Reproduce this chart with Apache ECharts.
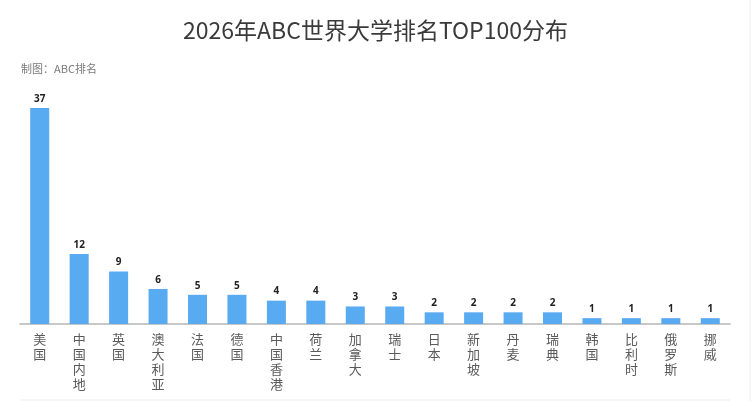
<!DOCTYPE html>
<html><head><meta charset="utf-8">
<script src="https://cdn.jsdelivr.net/npm/echarts@6/dist/echarts.min.js"></script>
<style>html,body{margin:0;padding:0;background:#fff}#c{width:751px;height:401px}</style>
</head><body><div id="c"></div>
<script>
const categories = ['美国','中国内地','英国','澳大利亚','法国','德国','中国香港','荷兰','加拿大','瑞士','日本','新加坡','丹麦','瑞典','韩国','比利时','俄罗斯','挪威'];
const counts = [37,12,9,6,5,5,4,4,3,3,2,2,2,2,1,1,1,1];
const titleText = '2026年ABC世界大学排名TOP100分布';
const sourceText = '制图：ABC排名';

const chart = echarts.init(document.getElementById('c'));
chart.setOption({
  backgroundColor: '#fff',
  animation: false,
  title: [
    {text: titleText, left: 'center', top: 14, textStyle: {fontFamily: 'Noto Sans CJK SC', fontSize: 23, fontWeight: 'normal', color: '#3a3a3a'}},
    {text: sourceText, left: 16, top: 58, textStyle: {fontFamily: 'Noto Sans CJK SC', fontSize: 11, fontWeight: 'normal', color: '#7a7a7a'}}
  ],
  grid: {left: 20, right: 21, top: 108, bottom: 77, containLabel: false},
  xAxis: {
    type: 'category', data: categories,
    axisLine: {show: true, lineStyle: {color: '#b5b5b5', width: 1.5}},
    axisTick: {show: false},
    axisLabel: {
      interval: 0, margin: 8, color: '#5a5a5a', fontSize: 13, lineHeight: 15,
      fontFamily: 'Noto Sans CJK SC', verticalAlign: 'top',
      formatter: v => v.split('').join('\n')
    }
  },
  yAxis: {type: 'value', min: 0, max: 37, show: false, splitLine: {show: false}},
  series: [{
    type: 'bar', data: counts, barWidth: 19,
    itemStyle: {color: '#58aaf1'},
    label: {show: true, position: 'top', distance: 4, color: '#222', fontSize: 10, fontWeight: 'bold', fontFamily: 'Noto Sans'}
  }],
  graphic: [
    {type: 'line', shape: {x1: 20, y1: 400, x2: 730, y2: 400}, style: {stroke: '#ececec', lineWidth: 1}},
    {type: 'line', shape: {x1: 750, y1: 0, x2: 750, y2: 401}, style: {stroke: '#eeeeee', lineWidth: 1}}
  ]
});
</script></body></html>
